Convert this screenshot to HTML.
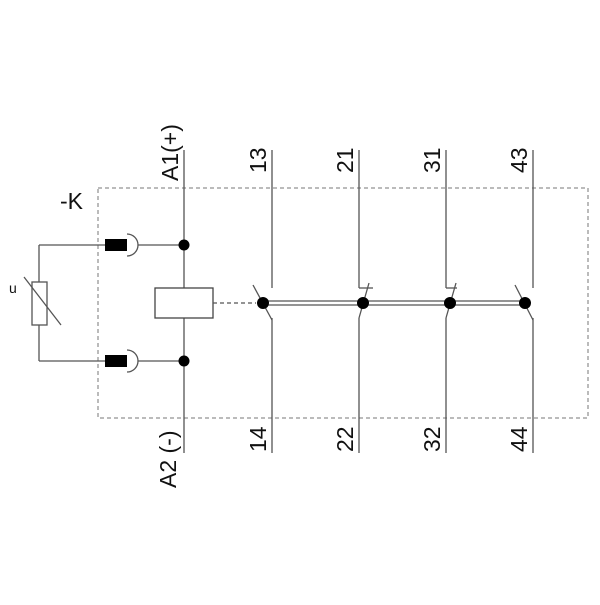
<!DOCTYPE html>
<html><head><style>body{margin:0;background:#fff}</style></head><body>
<svg width="600" height="600" viewBox="0 0 600 600" xmlns="http://www.w3.org/2000/svg" font-family="Liberation Sans, sans-serif">
<rect x="98" y="188" width="490" height="230" fill="none" stroke="#777" stroke-width="1" stroke-dasharray="4,3"/>
<g stroke="#555" stroke-width="1.3" fill="none">
<line x1="184" y1="150" x2="184" y2="288"/>
<line x1="184" y1="318" x2="184" y2="453"/>
<rect x="155" y="288" width="58" height="30" stroke="#444"/>
<line x1="213" y1="303" x2="256" y2="303" stroke-dasharray="4,3"/>
<line x1="39" y1="245" x2="105" y2="245"/>
<line x1="39" y1="361" x2="105" y2="361"/>
<line x1="39" y1="245" x2="39" y2="282"/>
<line x1="39" y1="325" x2="39" y2="361"/>
<rect x="32" y="282" width="15" height="43"/>
<line x1="24" y1="277" x2="61" y2="325"/>
<line x1="138" y1="245" x2="184" y2="245"/>
<line x1="138" y1="361" x2="184" y2="361"/>
<path d="M127,234 A11,11 0 0 1 127,256"/>
<path d="M127,350 A11,11 0 0 1 127,372"/>
<line x1="272" y1="150" x2="272" y2="288"/>
<line x1="272" y1="318" x2="272" y2="453"/>
<line x1="253" y1="285" x2="272" y2="320"/>
<line x1="359" y1="150" x2="359" y2="288"/><line x1="359" y1="288" x2="373" y2="288"/>
<line x1="359" y1="318" x2="359" y2="453"/>
<line x1="369" y1="283" x2="359" y2="318"/>
<line x1="446" y1="150" x2="446" y2="288"/><line x1="446" y1="288" x2="457" y2="288"/>
<line x1="446" y1="318" x2="446" y2="453"/>
<line x1="456" y1="283" x2="446" y2="318"/>
<line x1="533" y1="150" x2="533" y2="288"/>
<line x1="533" y1="318" x2="533" y2="453"/>
<line x1="515" y1="285" x2="533" y2="320"/>
<line x1="263" y1="301" x2="525" y2="301"/>
<line x1="263" y1="305" x2="525" y2="305"/>
</g>
<rect x="105" y="239" width="22" height="12" fill="#000"/>
<rect x="105" y="355" width="22" height="12" fill="#000"/>
<g fill="#000">
<circle cx="184" cy="245" r="5.5"/><circle cx="184" cy="361" r="5.5"/>
<circle cx="263" cy="303" r="6"/><circle cx="363" cy="303" r="6"/>
<circle cx="450" cy="303" r="6"/><circle cx="525" cy="303" r="6"/>
</g>
<g font-size="23" fill="#111">
<text transform="translate(178,181) rotate(-90)">A1(+)</text>
<text transform="translate(266,173) rotate(-90)">13</text>
<text transform="translate(353,173) rotate(-90)">21</text>
<text transform="translate(440,173) rotate(-90)">31</text>
<text transform="translate(527,173) rotate(-90)">43</text>
<text transform="translate(176,488) rotate(-90)">A2 (-)</text>
<text transform="translate(266,452) rotate(-90)">14</text>
<text transform="translate(353,452) rotate(-90)">22</text>
<text transform="translate(440,452) rotate(-90)">32</text>
<text transform="translate(527,452) rotate(-90)">44</text>
<text x="60" y="209">-K</text>
<text x="9" y="293" font-size="14">u</text>
</g>
</svg>
</body></html>
